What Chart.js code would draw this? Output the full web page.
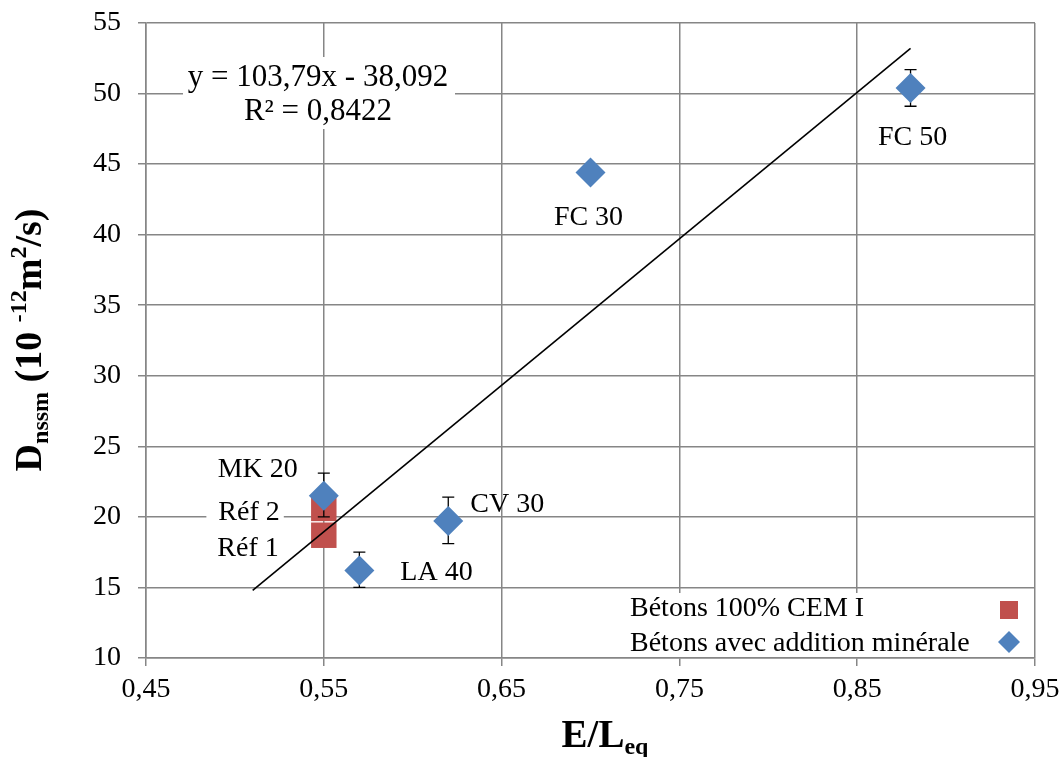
<!DOCTYPE html>
<html>
<head>
<meta charset="utf-8">
<script src="https://cdn.jsdelivr.net/npm/chart.js@4.4.1/dist/chart.umd.min.js"></script>
<style>
  body { margin: 0; background: #fff; }
</style>
</head>
<body>
<canvas id="chart" width="1062" height="757"></canvas>
<script>
// Bétons 100% CEM I
const refNames = ["Réf 1", "Réf 2"];
const refX = [0.55, 0.55];
const refY = [18.7, 20.6];

// Bétons avec addition minérale
const addNames = ["MK 20", "LA 40", "CV 30", "FC 30", "FC 50"];
const addX = [0.55, 0.57, 0.62, 0.70, 0.88];
const addY = [21.5, 16.2, 19.7, 44.4, 50.4];
const addErrLow = [20.0, 15.0, 18.1, 44.4, 49.1];
const addErrHigh = [23.1, 17.5, 21.4, 44.4, 51.7];

// linear trendline
const trendX = [0.51, 0.88];
const trendY = [14.8, 53.2];
const trendEquation = "y = 103,79x - 38,092";
const trendR2 = "R² = 0,8422";

const xTickValues = [0.45, 0.55, 0.65, 0.75, 0.85, 0.95];
const xTickLabels = ["0,45", "0,55", "0,65", "0,75", "0,85", "0,95"];
const yTickValues = [10, 15, 20, 25, 30, 35, 40, 45, 50, 55];
const yTickLabels = ["10", "15", "20", "25", "30", "35", "40", "45", "50", "55"];

const legendLabels = ["Bétons 100% CEM I", "Bétons avec addition minérale"];

const RED = "#C0504D";
const BLUE = "#4F81BD";
const GRID = "#868686";
const SERIF = "'Liberation Serif', 'DejaVu Serif', serif";

function drawRich(ctx, parts, cx, y) {
    let w = 0;
    parts.forEach(p => { ctx.font = p.font; w += ctx.measureText(p.text).width; });
    let x = cx - w / 2;
    parts.forEach(p => {
        ctx.font = p.font;
        ctx.fillText(p.text, x, y + (p.dy || 0));
        x += ctx.measureText(p.text).width;
    });
}

// error bars go between the red squares and the blue diamonds
const errorBars = {
    id: "errorBars",
    beforeDatasetDraw(chart, args) {
        if (args.index !== 1) return;
        const ctx = chart.ctx, xs = chart.scales.x, ys = chart.scales.y;
        ctx.save();
        ctx.strokeStyle = "#000";
        ctx.lineWidth = 1.3;
        addX.forEach((x, i) => {
            if (addErrLow[i] === addErrHigh[i]) return;
            const px = xs.getPixelForValue(x);
            const y1 = ys.getPixelForValue(addErrLow[i]);
            const y2 = ys.getPixelForValue(addErrHigh[i]);
            ctx.beginPath();
            ctx.moveTo(px, y1); ctx.lineTo(px, y2);
            ctx.moveTo(px - 6, y1); ctx.lineTo(px + 6, y1);
            ctx.moveTo(px - 6, y2); ctx.lineTo(px + 6, y2);
            ctx.stroke();
        });
        ctx.restore();
    }
};

// point labels, equation box, legend, axis titles
const extras = {
    id: "extras",
    afterDatasetsDraw(chart) {
        const ctx = chart.ctx, xs = chart.scales.x, ys = chart.scales.y;
        const area = chart.chartArea;
        ctx.save();
        ctx.fillStyle = "#000";
        ctx.font = "28px " + SERIF;
        ctx.textBaseline = "middle";

        // label placement: [dx, dy, align]
        const place = {
            "Réf 1": [-45, 13, "right"],
            "Réf 2": [-44, 4, "right"],
            "MK 20": [-26, -26, "right"],
            "LA 40": [41, 2, "left"],
            "CV 30": [22, -16, "left"],
            "FC 30": [-2, 45, "center"],
            "FC 50": [2, 50, "center"]
        };
        const pts = [];
        refNames.forEach((n, i) => pts.push([n, refX[i], refY[i]]));
        addNames.forEach((n, i) => pts.push([n, addX[i], addY[i]]));
        pts.forEach(([n, x, y]) => {
            const p = place[n];
            const px = xs.getPixelForValue(x) + p[0];
            const py = ys.getPixelForValue(y) + p[1];
            ctx.textAlign = p[2];
            if (n === "Réf 2") {
                const w = ctx.measureText(n).width;
                ctx.fillStyle = "#fff";
                ctx.fillRect(px - w - 12, py - 13, w + 16, 26);
                ctx.fillStyle = "#000";
            }
            ctx.fillText(n, px, py);
        });

        // trendline equation
        ctx.fillStyle = "#fff";
        ctx.fillRect(183, 57, 272, 72);
        ctx.fillStyle = "#000";
        ctx.textAlign = "center";
        ctx.font = "31px " + SERIF;
        ctx.fillText(trendEquation, 318, 78);
        ctx.fillText(trendR2, 318, 112);

        // legend inside plot area
        ctx.fillStyle = "#fff";
        ctx.fillRect(618, 593, area.right - 618 - 1, 64);
        ctx.fillStyle = "#000";
        ctx.textAlign = "left";
        ctx.font = "28px " + SERIF;
        ctx.fillText(legendLabels[0], 630, 609);
        ctx.fillText(legendLabels[1], 630, 644);
        ctx.fillStyle = RED;
        ctx.fillRect(1000, 601, 18, 18);
        ctx.fillStyle = BLUE;
        ctx.beginPath();
        ctx.moveTo(1009, 631); ctx.lineTo(1020, 642); ctx.lineTo(1009, 653); ctx.lineTo(998, 642);
        ctx.closePath();
        ctx.fill();
        ctx.restore();
    },
    afterDraw(chart) {
        const ctx = chart.ctx;
        ctx.save();
        ctx.fillStyle = "#000";
        ctx.textAlign = "left";
        ctx.textBaseline = "alphabetic";
        drawRich(ctx, [
            { text: "E/L", font: "bold 39px " + SERIF },
            { text: "eq", font: "bold 24px " + SERIF, dy: 7 }
        ], 605, 747);

        const big = "bold 38px " + SERIF, small = "bold 24px " + SERIF;
        ctx.translate(41, 340);
        ctx.rotate(-Math.PI / 2);
        drawRich(ctx, [
            { text: "D", font: big },
            { text: "nssm", font: small, dy: 7 },
            { text: " (10 ", font: big },
            { text: "-12", font: small, dy: -15 },
            { text: "m", font: big },
            { text: "2", font: small, dy: -15 },
            { text: "/s)", font: big }
        ], 0, 0);
        ctx.restore();
    }
};

const ctx = document.getElementById("chart").getContext("2d");
new Chart(ctx, {
    type: "scatter",
    data: {
        datasets: [{
            label: "Linéaire",
            type: "line",
            data: trendX.map((x, i) => ({ x: x, y: trendY[i] })),
            borderColor: "#000",
            borderWidth: 1.6,
            pointRadius: 0,
            fill: false
        }, {
            label: legendLabels[1],
            data: addX.map((x, i) => ({ x: x, y: addY[i] })),
            pointStyle: "rectRot",
            pointRadius: 15,
            pointBackgroundColor: BLUE,
            pointBorderWidth: 0
        }, {
            label: legendLabels[0],
            data: refX.map((x, i) => ({ x: x, y: refY[i] })),
            pointStyle: "rect",
            pointRadius: 18,
            pointBackgroundColor: RED,
            pointBorderWidth: 0
        }]
    },
    options: {
        responsive: false,
        animation: false,
        layout: { padding: { top: 23, right: 27, left: 0, bottom: 0 } },
        plugins: {
            legend: { display: false },
            tooltip: { enabled: false }
        },
        scales: {
            x: {
                type: "linear",
                min: 0.45,
                max: 0.95,
                afterBuildTicks: s => { s.ticks = xTickValues.map(v => ({ value: v })); },
                afterFit: s => { s.height = 99; s.paddingLeft = 0; s.paddingRight = 0; },
                ticks: {
                    callback: (v, i) => xTickLabels[i],
                    color: "#000",
                    font: { family: SERIF, size: 28 },
                    padding: 7,
                    maxRotation: 0
                },
                grid: { color: GRID, lineWidth: 1.5, tickLength: 8 },
                border: { color: GRID, width: 1.5 }
            },
            y: {
                min: 10,
                max: 55,
                afterBuildTicks: s => { s.ticks = yTickValues.map(v => ({ value: v })); },
                afterFit: s => { s.width = 146; s.paddingTop = 0; s.paddingBottom = 0; },
                ticks: {
                    callback: (v, i) => yTickLabels[i],
                    color: "#000",
                    font: { family: SERIF, size: 28 },
                    padding: 17
                },
                grid: { color: GRID, lineWidth: 1.5, tickLength: 8 },
                border: { color: GRID, width: 1.5 }
            }
        }
    },
    plugins: [errorBars, extras]
});
</script>
</body>
</html>
